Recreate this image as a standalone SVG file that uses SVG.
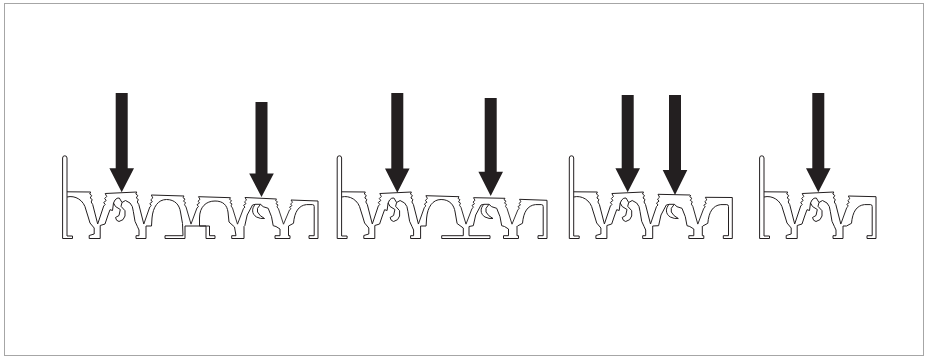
<svg xmlns="http://www.w3.org/2000/svg" width="928" height="358" viewBox="0 0 928 358">
<style>
.l{fill:none;stroke:#231f20;stroke-width:1;stroke-linejoin:round}
.a{fill:#231f20}
</style>
<defs>
<path id="vl" class="l" d="M-7-33L-8-31-6-29.5-7.5-27-5.5-25.5-6.5-23-5-20.5 0-1"/>
<path id="vr" class="l" d="M0-1L6-19 7.5-20.5 6-22.5 8.5-24.5 7-26.5 9-28.5 7.5-31.5"/>
<g id="left">
<path class="l" d="M72.5 236H67V158a2.2 2.2 0 0 0-4.4 0V238.5H72.5ZM67 191.8L90.7 192"/>
<path class="l" d="M67 197C75 195 84 200 86 210L88.2 217 90 223 94.2 228V234L89.2 235.5V238.5H100.2V225.5L105 224 107.7 216 110 209.7 112.5 210.5 113.5 203 115 200Q117 197.5 119.3 198L122 202.5 125.5 200.5 130 203Q133 206 133.3 211.3L135 221.3 137.3 226.3 139 230V235.7H136V238.5H146V226"/>
<path class="l" d="M122 202.5L121 206.3 125 210.7 125 216Q124 220.5 119 221.5 116 221 115.5 217.5L119 215.5 120.3 209.5 115.5 206.5 113.5 203"/>
<path class="l" d="M105.2 193.5L136.8 192"/>
<use href="#vl" transform="translate(97.7 225)"/>
<use href="#vr" transform="translate(97.7 225)"/>
<use href="#vl" transform="translate(143.8 225)"/>
</g>
<path id="arch" class="l" d="M146 226H151.5L152 218C153 207 158 199.5 166.5 199.5C175 199.5 179.5 205 180.5 212L182.5 223.5"/>
<g id="hookB">
<path class="l" d="M473.3 225.7L475.7 215 481 205 484 204.3H489L491.7 206.7 496.7 208.3 500 216.7 501.7 225.7 504.5 226.5 508.5 229V235.7H503.5V238.5H518.5V235.7H517V226"/>
<path class="l" d="M484 204.3C480 208 480 214 485 217Q489 219 493 218.5 488 216 486 212 484.5 208.5 489 204.3"/>
</g>
<path id="cap" class="l" d="M517 226L522 223.3C523 212 527 205.5 535 204.6H541Q542.7 204.6 542.7 206.5V235.7H537.5V238.5H546.5V204"/>
</defs>
<rect x="4.5" y="3.5" width="919" height="352" fill="#fff" stroke="#a6a6a6"/>
<g id="profile-1">
<use href="#left"/>
<use href="#vr" transform="translate(143.8 225) scale(1 .95)"/>
<use href="#arch"/>
<path class="l" d="M151.3 195L184 196M182.5 223.5L183 235.7H165V238.5H185V226H206V238.5H215V235.7H209.5V226H199.5V218C199.5 207 206 201 215 201C223 201 227 205 228 212L229 222 234.5 227 236 235.7H231.7V238.5H244V226.5L244.8 225.7"/>
<use href="#vl" transform="translate(191 225) scale(1 .88)"/>
<use href="#vr" transform="translate(191 225) scale(1 .9)"/>
<path class="l" d="M198.5 196.7L230.5 197.7"/>
<use href="#vl" transform="translate(237.5 225) scale(1 .827)"/>
<use href="#vr" transform="translate(237.5 225) scale(1 .873)"/>
<path class="l" d="M245 197.5L276.5 199"/>
<use href="#hookB" transform="translate(-228.5 0)"/>
<use href="#vl" transform="translate(283.5 225) scale(1 .788)"/>
<use href="#vr" transform="translate(283.5 225) scale(1 .794)"/>
<path class="l" d="M291 200L318 201V204"/>
<use href="#cap" transform="translate(-228.5 0)"/>
</g>
<g id="profile-2">
<use href="#left" transform="translate(274.6 0)"/>
<use href="#vr" transform="translate(418.4 225) scale(1 .93)"/>
<use href="#arch" transform="translate(274.6 0)"/>
<path class="l" d="M425.9 195.7L459 196.7M457.1 223.5L463.3 228V235.7H441.7V238.5H490V235.7H469V226.5L473.3 225.7"/>
<use href="#vl" transform="translate(466 225) scale(1 .858)"/>
<use href="#vr" transform="translate(466 225) scale(1 .867)"/>
<path class="l" d="M473.5 197.7L505 198.3"/>
<use href="#hookB"/>
<use href="#vl" transform="translate(512 225) scale(1 .81)"/>
<use href="#vr" transform="translate(512 225) scale(1 .816)"/>
<path class="l" d="M519.5 199.3L547 200.3V204"/>
<use href="#cap" transform="translate(.5 0)"/>
</g>
<g id="profile-3">
<use href="#left" transform="translate(506.7 0)"/>
<use href="#vr" transform="translate(650.5 225) scale(1 .975)"/>
<path class="l" d="M652.7 226L658.6 225.7M658 194.3L690 195"/>
<use href="#hookB" transform="translate(185.3 0)"/>
<use href="#vl" transform="translate(697.8 225) scale(1 .91)"/>
<use href="#vr" transform="translate(697.8 225) scale(1 .88)"/>
<path class="l" d="M705.3 197.3L732.3 197.5V204"/>
<use href="#cap" transform="translate(185.8 0)"/>
</g>
<g id="profile-4">
<use href="#left" transform="translate(697 0)"/>
<use href="#vr" transform="translate(840.8 225) scale(1 .92)"/>
<path class="l" d="M843 226L846.5 226M848.3 196L876 196.7V204"/>
<use href="#cap" transform="translate(329.5 0)"/>
</g>
<g id="arrows">
<path class="a" d="M115.7 93H127.7V168.3H134L121.7 192.3 109.4 168.3H115.7Z"/>
<path class="a" d="M255.5 102H267.5V173.5H273.8L261.5 197 249.2 173.5H255.5Z"/>
<path class="a" d="M391.3 93H403.3V168.5H409.6L397.3 192.7 385 168.5H391.3Z"/>
<path class="a" d="M484.7 98H496.7V171.7H503L490.7 196 478.4 171.7H484.7Z"/>
<path class="a" d="M621.7 95H633.7V168.3H640L627.7 192.3 615.4 168.3H621.7Z"/>
<path class="a" d="M669 95H681V170H687.3L675 195 662.7 170H669Z"/>
<path class="a" d="M812.3 93H824.3V168.3H830.6L818.3 192.3 806 168.3H812.3Z"/>
</g>
</svg>
